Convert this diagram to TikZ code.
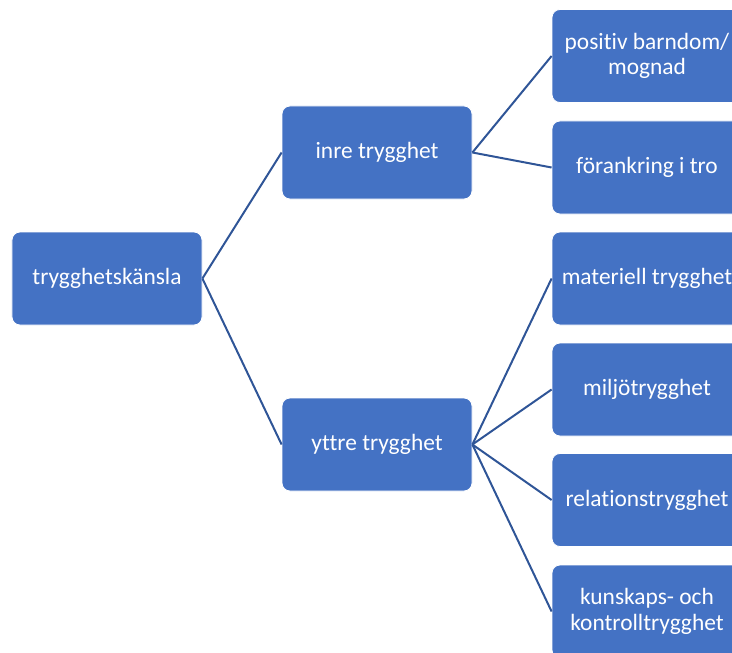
\documentclass[tikz,border=0pt]{standalone}
\usepackage{fontspec}
\setmainfont{Carlito}[Ligatures={NoCommon}]
\definecolor{boxblue}{HTML}{4472C4}
\definecolor{lineblue}{HTML}{2F5597}
\tikzset{
  box/.style={draw=white, line width=0.8bp, fill=boxblue, rounded corners=8bp,
    minimum width=190bp, minimum height=93bp, inner sep=2bp, text=white,
    align=center, font=\fontsize{23.5}{25.5}\selectfont},
  conn/.style={draw=lineblue, line width=2bp}
}
\begin{document}
\begin{tikzpicture}[x=1bp,y=-1bp]
\useasboundingbox (0,0) rectangle (732,653);
\clip (0,0) rectangle (732,653);
\node[box] (root) at (107,278.5) {trygghetskänsla};
\node[box] (inre) at (377,152.5) {inre trygghet};
\node[box] (yttre) at (377,444.5) {yttre trygghet};
\node[box] (pos) at (647,56) {positiv barndom/\\mognad};
\node[box] (for) at (647,167.5) {förankring i tro};
\node[box] (mat) at (647,278.5) {materiell trygghet};
\node[box] (milj) at (647,389.5) {miljötrygghet};
\node[box] (rel) at (647,500) {relationstrygghet};
\node[box] (kun) at (647,611.5) {kunskaps- och\\kontrolltrygghet};
\draw[conn] (root.east) -- (inre.west);
\draw[conn] (root.east) -- (yttre.west);
\draw[conn] (inre.east) -- (pos.west);
\draw[conn] (inre.east) -- (for.west);
\draw[conn] (yttre.east) -- (mat.west);
\draw[conn] (yttre.east) -- (milj.west);
\draw[conn] (yttre.east) -- (rel.west);
\draw[conn] (yttre.east) -- (kun.west);
\end{tikzpicture}
\end{document}
